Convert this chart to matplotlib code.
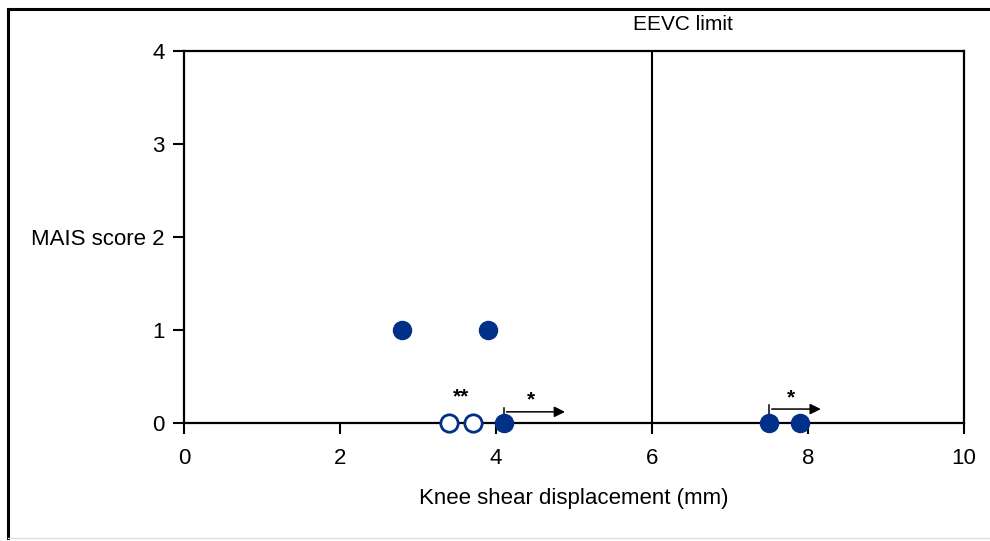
import matplotlib
matplotlib.use("Agg")
import matplotlib.pyplot as plt
from matplotlib.lines import Line2D

plt.rcParams['font.family'] = ['Liberation Sans', 'DejaVu Sans']

# datos
filled_x = [2.8, 3.9, 4.1, 7.5, 7.9]
filled_y = [1, 1, 0, 0, 0]
open_x = [3.4, 3.7]
open_y = [0, 0]
limit_x = 6
arrows = [(4.1, 4.92, 0.12), (7.5, 8.2, 0.15)]   # inicio, fin, altura
stars = [(3.55, 0.28, "**"), (4.45, 0.25, "*"), (7.78, 0.27, "*")]
xticks = [0, 2, 4, 6, 8, 10]
yticks = [0, 1, 2, 3, 4]

navy = "#003087"

fig = plt.figure(figsize=(9.9, 5.41), dpi=100)
ax = fig.add_axes([0.1859, 0.2181, 0.7878, 0.6876])

# marco exterior
fig.add_artist(Line2D([0.0085, 0.0085], [0.005, 0.984], color="black", lw=2.2, transform=fig.transFigure))
fig.add_artist(Line2D([0.0085, 1.0], [0.984, 0.984], color="black", lw=2.2, transform=fig.transFigure))
fig.add_artist(Line2D([0.0085, 1.0], [0.005, 0.005], color="#dddddd", lw=1, transform=fig.transFigure))

# línea límite EEVC
ax.plot([limit_x, limit_x], [0, 4], color="black", lw=1.5, zorder=2)
ax.text(limit_x + 0.4, 4.29, "EEVC limit", ha="center", va="center", fontsize=15)

# flechas
for x0, x1, y in arrows:
    ax.annotate("", xy=(x1, y), xytext=(x0, y),
                arrowprops=dict(arrowstyle="-|>", color="black", lw=1.1, mutation_scale=16))
    ax.plot([x0, x0], [y + 0.04, 0], color="black", lw=1.1, zorder=2)

for sx, sy, s in stars:
    ax.text(sx, sy, s, ha="center", va="center", fontsize=15, fontweight="bold")

ax.plot(filled_x, filled_y, "o", color=navy, markersize=13, zorder=4, clip_on=False)
ax.plot(open_x, open_y, "o", markerfacecolor="white", markeredgecolor=navy,
        markeredgewidth=2, markersize=12.5, zorder=4, clip_on=False)

ax.set_xlim(0, 10)
ax.set_ylim(0, 4)
ax.set_xticks(xticks)
ax.set_yticks(yticks)
ax.set_yticklabels(["0", "1", "MAIS score 2", "3", "4"])
ax.tick_params(direction="out", length=8, width=1.5, labelsize=16, pad=6)
ax.tick_params(axis="x", pad=10)
for sp in ax.spines.values():
    sp.set_linewidth(1.6)

ax.set_xlabel("Knee shear displacement (mm)", fontsize=16, labelpad=14)

fig.savefig("out.png", dpi=100)
